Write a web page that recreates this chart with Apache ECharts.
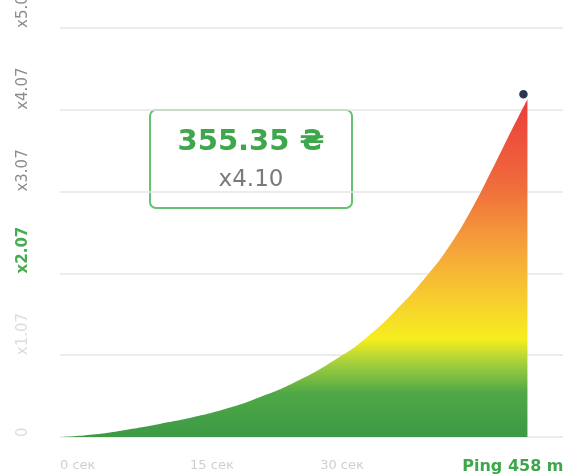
<!DOCTYPE html>
<html>
<head>
<meta charset="utf-8">
<script src="https://cdn.jsdelivr.net/npm/echarts@6/dist/echarts.min.js"></script>
<style>
	html, body { margin: 0; padding: 0; background: #fff; }
	#chart { width: 563px; height: 476px; }
</style>
</head>
<body>
<div id="chart"></div>
<script>
// time in seconds and multiplier
var times = [0.2, 3.8, 7.7, 11.5, 15.3, 19.3, 23.1, 26.9, 31.5, 35.4, 39.2, 42.3, 45.0, 47.7, 49.6, 51.6, 53.9];
var values = [0, 0.03, 0.09, 0.16, 0.24, 0.35, 0.49, 0.66, 0.93, 1.22, 1.6, 1.97, 2.35, 2.83, 3.22, 3.65, 4.13];
var yTickLabels = ['0', 'x1.07', 'x2.07', 'x3.07', 'x4.07', 'x5.07'];
var xTickLabels = ['0 сек', '15 сек', '30 сек', 'Ping 458 ms'];
var amount = '355.35 ₴';
var multiplier = 'x4.10';

(function() {
	var myChart = echarts.init(document.getElementById('chart'));

	var data = times.map(function(t, i) {
		return [t, values[i]];
	});
	var last = data.length - 1;
	data[last] = {
		value: data[last],
		symbol: 'circle',
		symbolSize: 10,
		symbolOffset: [-4, -5],
		itemStyle: { color: '#2b3650', borderColor: '#fff', borderWidth: 1.5 }
	};

	var yStyles = ['faint', 'faint', 'green', 'gray', 'gray', 'gray'];
	var xStyles = ['faint', 'faint', 'faint', 'ping'];

	option = {
		animation: false,
		backgroundColor: '#fff',
		grid: {
			left: 60,
			right: 0,
			top: 28,
			bottom: 39,
			outerBoundsMode: 'none'
		},
		xAxis: {
			type: 'value',
			min: 0,
			max: 58,
			interval: 15,
			axisLine: { show: false },
			axisTick: { show: false },
			splitLine: { show: false },
			axisLabel: {
				align: 'left',
				margin: 22,
				showMaxLabel: false,
				formatter: function(v) {
					var i = Math.round(v / 15);
					if (!xTickLabels[i] || v % 15) return '';
					var pre = xStyles[i] === 'ping' ? '{sp| }' : '';
					return pre + '{' + xStyles[i] + '|' + xTickLabels[i] + '}';
				},
				rich: {
					sp: { width: 12 },
					faint: { fontFamily: 'DejaVu Sans', fontSize: 13, color: '#cfcfcf' },
					ping: { fontFamily: 'DejaVu Sans', fontSize: 16, fontWeight: 'bold', color: '#3ea64b' }
				}
			}
		},
		yAxis: {
			type: 'value',
			min: 0,
			max: 5,
			interval: 1,
			axisLine: { show: false },
			axisTick: { show: false },
			splitLine: { lineStyle: { color: '#e6e6e6', width: 1.5 } },
			axisLabel: {
				rotate: 90,
				align: 'left',
				margin: 29,
				formatter: function(v) {
					var i = Math.round(v);
					return '{' + yStyles[i] + '|' + yTickLabels[i] + '}';
				},
				rich: {
					faint: { fontFamily: 'DejaVu Sans', fontSize: 15, color: '#dcdcdc' },
					gray: { fontFamily: 'DejaVu Sans', fontSize: 15, color: '#8c8c8c' },
					green: { fontFamily: 'DejaVu Sans', fontSize: 15, fontWeight: 'bold', color: '#45ad4f' }
				}
			}
		},
		graphic: [{
			type: 'group',
			left: 149,
			top: 109,
			children: [{
				type: 'rect',
				shape: { x: 0, y: 0, width: 202, height: 98, r: 6 },
				style: { fill: '#fff', stroke: '#66c170', lineWidth: 2 }
			}, {
				type: 'text',
				x: 101,
				y: 32,
				style: {
					text: amount,
					align: 'center',
					verticalAlign: 'middle',
					fontFamily: 'DejaVu Sans',
					fontSize: 29,
					fontWeight: 'bold',
					fill: '#3ea64b'
				}
			}, {
				type: 'text',
				x: 101,
				y: 70,
				style: {
					text: multiplier,
					align: 'center',
					verticalAlign: 'middle',
					fontFamily: 'DejaVu Sans',
					fontSize: 23,
					fill: '#7a7a7a'
				}
			}]
		}],
		series: [{
			type: 'line',
			smooth: true,
			symbol: 'none',
			lineStyle: { width: 0 },
			areaStyle: {
				opacity: 1,
				color: new echarts.graphic.LinearGradient(0, 1, 0, 0, [
					{ offset: 0, color: '#3c9a45' },
					{ offset: 0.13, color: '#4fa846' },
					{ offset: 0.22, color: '#a5d03c' },
					{ offset: 0.29, color: '#f6ee1e' },
					{ offset: 0.4, color: '#f7cf2e' },
					{ offset: 0.55, color: '#f5a63a' },
					{ offset: 0.75, color: '#f06a3c' },
					{ offset: 1, color: '#ec3c3a' }
				])
			},
			data: data
		}]
	};

	myChart.setOption(option);
})();
</script>
</body>
</html>
